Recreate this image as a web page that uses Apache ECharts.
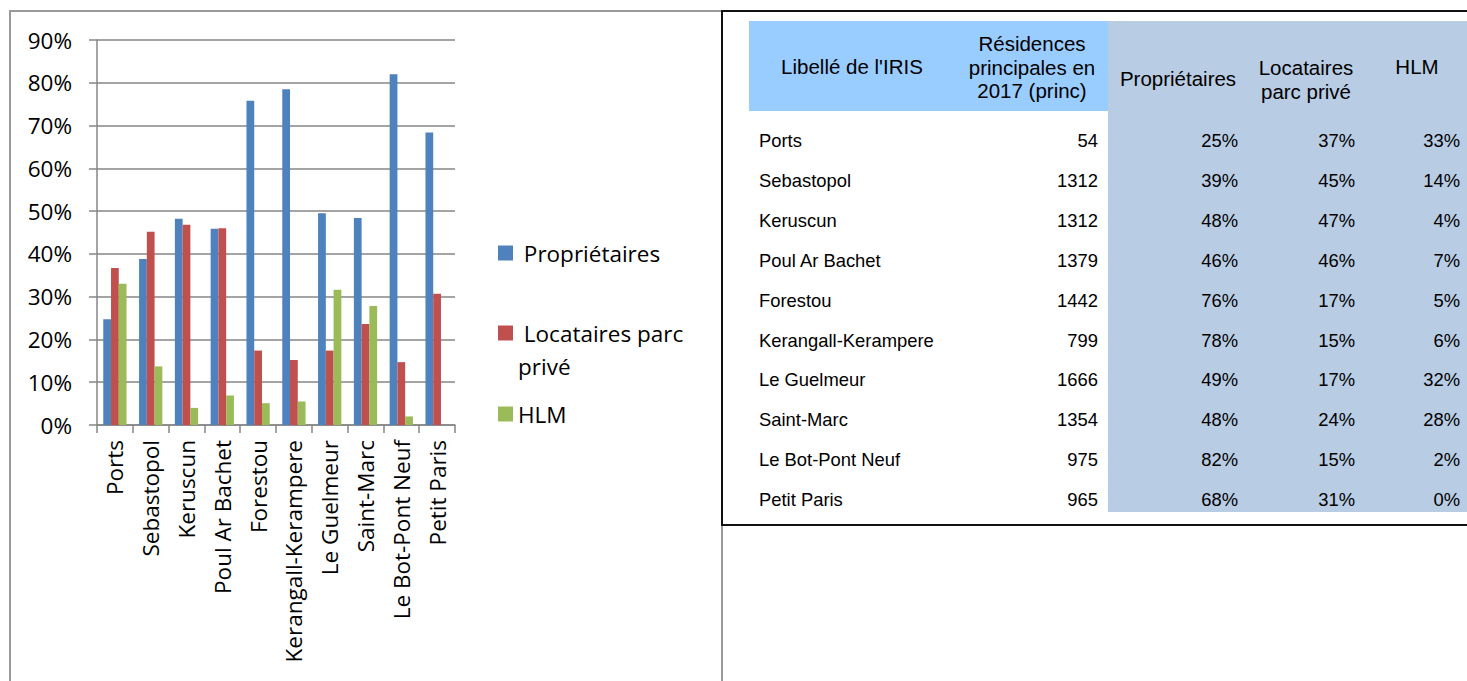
<!DOCTYPE html>
<html>
<head>
<meta charset="utf-8">
<script src="https://cdn.jsdelivr.net/npm/echarts@6/dist/echarts.min.js"></script>
<style>
  html, body { margin: 0; padding: 0; background: #fff; }
  #wrap { position: relative; width: 1467px; height: 681px; overflow: hidden; background: #fff; }
  #chart { position: absolute; left: 0; top: 0; width: 1467px; height: 681px; }
  .ln { position: absolute; }
  .cell { position: absolute; font-family: "Liberation Sans", Arial, sans-serif; color: #000; white-space: nowrap; }
  .hd { font-size: 20.5px; line-height: 23.5px; text-align: center; transform: translate(-50%, -50%); }
  .rw { font-size: 18.4px; line-height: 20px; transform: translateY(-50%); }
  .rr { transform: translate(-100%, -50%); text-align: right; }
</style>
</head>
<body>
<div id="wrap">
  <div id="chart"></div>
  <div id="table"></div>
</div>
<script>
// ---- data ----
const categories = ['Ports', 'Sebastopol', 'Keruscun', 'Poul Ar Bachet', 'Forestou', 'Kerangall-Kerampere', 'Le Guelmeur', 'Saint-Marc', 'Le Bot-Pont Neuf', 'Petit Paris'];
const seriesNames = ['Propriétaires', 'Locataires parc privé', 'HLM'];
const proprietaires = [24.7, 38.8, 48.2, 45.9, 75.8, 78.5, 49.5, 48.4, 82.0, 68.4];
const locataires = [36.7, 45.2, 46.8, 46.0, 17.4, 15.2, 17.4, 23.6, 14.7, 30.7];
const hlm = [33.0, 13.7, 4.0, 6.9, 5.1, 5.5, 31.6, 27.8, 2.0, 0];
const yMin = 0, yMax = 90, yStep = 10;

const tableHeaders = ["Libellé de l'IRIS", 'Résidences\nprincipales en\n2017 (princ)', 'Propriétaires', 'Locataires\nparc privé', 'HLM'];
const residences = [54, 1312, 1312, 1379, 1442, 799, 1666, 1354, 975, 965];
const tabProprietaires = [25, 39, 48, 46, 76, 78, 49, 48, 82, 68];
const tabLocataires = [37, 45, 47, 46, 17, 15, 17, 24, 15, 31];
const tabHlm = [33, 14, 4, 7, 5, 6, 32, 28, 2, 0];

const colors = ['#4F81BD', '#C0504D', '#9BBB59'];

// ---- chart ----
const chart = echarts.init(document.getElementById('chart'), null, { renderer: 'svg' });
const font = '"Open Sans", Lato, sans-serif';
const FS = 22.5;
const LH = 33;
function legendAt(name, centerY, lines, fmt) {
  return {
    orient: 'vertical', left: 498, top: centerY - (lines * LH) / 2, padding: 0,
    itemWidth: 15, itemHeight: 15, icon: 'rect', selectedMode: false,
    data: [name], formatter: fmt,
    textStyle: { fontFamily: font, fontSize: FS, lineHeight: LH, color: '#000' }
  };
}
chart.setOption({
  animation: false,
  color: colors,
  grid: { left: 97, top: 40, right: 1012, bottom: 256 },
  legend: [
    legendAt(seriesNames[0], 253, 1, n => ' ' + n),
    legendAt(seriesNames[1], 333, 3, () => '\n Locataires parc\nprivé'),
    legendAt(seriesNames[2], 414, 1, n => n)
  ],
  xAxis: {
    type: 'category',
    data: categories,
    axisLine: { lineStyle: { color: '#868686', width: 1.5 } },
    axisTick: { show: true, length: 8, lineStyle: { color: '#868686', width: 1.5 } },
    axisLabel: { rotate: 90, margin: 15, fontFamily: font, fontSize: FS, color: '#000', interval: 0 }
  },
  yAxis: {
    type: 'value',
    min: yMin, max: yMax, interval: yStep,
    axisLine: { show: true, lineStyle: { color: '#868686', width: 1.5 } },
    axisTick: { show: true, length: 8, lineStyle: { color: '#868686', width: 1.5 } },
    axisLabel: { margin: 25, fontFamily: font, fontSize: FS, color: '#000', formatter: v => v + '%' },
    splitLine: { show: true, lineStyle: { color: '#868686', width: 1.5 } }
  },
  series: [proprietaires, locataires, hlm].map((d, i) => ({
    name: seriesNames[i],
    type: 'bar',
    data: d,
    barGap: '0%',
    barCategoryGap: '35%',
    itemStyle: { color: colors[i] }
  }))
});

// ---- table ----
const tbl = document.getElementById('table');
function add(html) { tbl.insertAdjacentHTML('beforeend', html); }
// frames
add('<div class="ln" style="left:9px;top:10px;width:2px;height:671px;background:#9a9a9a"></div>');
add('<div class="ln" style="left:9px;top:10px;width:713px;height:2px;background:#9a9a9a"></div>');
add('<div class="ln" style="left:721px;top:10px;width:2px;height:671px;background:#9a9a9a"></div>');
add('<div class="ln" style="left:721px;top:10px;width:2px;height:516px;background:#111"></div>');
add('<div class="ln" style="left:721px;top:10px;width:746px;height:2px;background:#111"></div>');
add('<div class="ln" style="left:721px;top:524px;width:746px;height:2px;background:#111"></div>');
// backgrounds
add('<div class="ln" style="left:749px;top:21px;width:359px;height:90px;background:#99CCFF"></div>');
add('<div class="ln" style="left:1108px;top:21px;width:359px;height:491px;background:#B8CCE4"></div>');
// header
const hdX = [852, 1032, 1178, 1306, 1417];
const hdY = [67, 67, 79, 79, 67];
tableHeaders.forEach((h, i) => {
  add('<div class="cell hd" style="left:' + hdX[i] + 'px;top:' + hdY[i] + 'px">' + h.split('\n').join('<br>') + '</div>');
});
// rows
const rowY0 = 141, rowStep = 39.9;
const rightX = [1098, 1238, 1355, 1460];
categories.forEach((c, r) => {
  const y = rowY0 + r * rowStep;
  add('<div class="cell rw" style="left:759px;top:' + y + 'px">' + c + '</div>');
  const vals = [String(residences[r]), tabProprietaires[r] + '%', tabLocataires[r] + '%', tabHlm[r] + '%'];
  vals.forEach((v, k) => {
    add('<div class="cell rw rr" style="left:' + rightX[k] + 'px;top:' + y + 'px">' + v + '</div>');
  });
});
</script>
</body>
</html>
